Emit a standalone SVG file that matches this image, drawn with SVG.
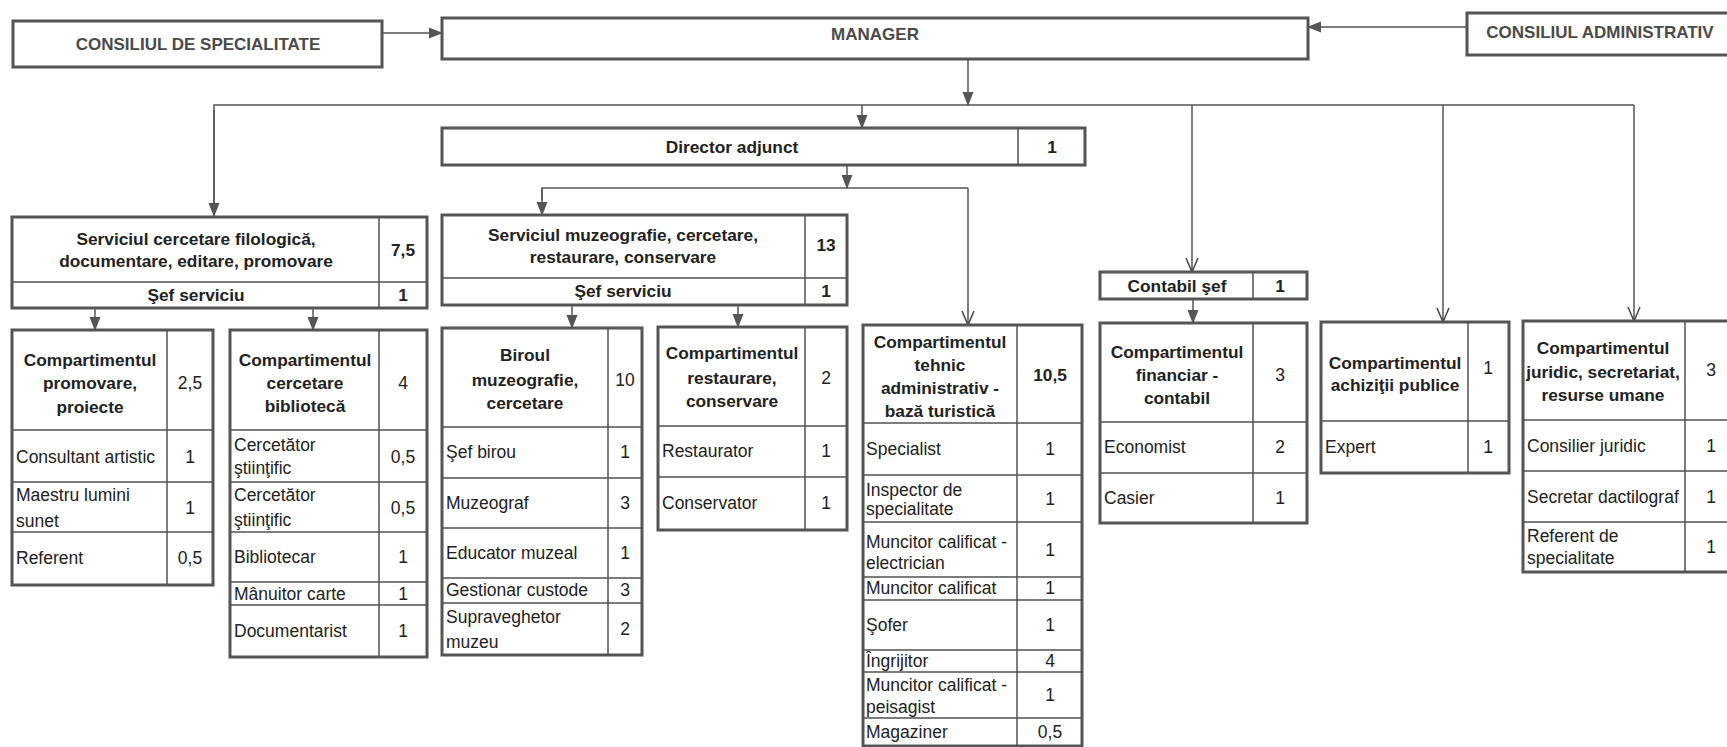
<svg xmlns="http://www.w3.org/2000/svg" width="1727" height="747" viewBox="0 0 1727 747">
<defs>
<style>
.bx{fill:#fff;stroke:#555;stroke-width:3}
.dv{stroke:#505050;stroke-width:1.5;fill:none}
.cn{stroke:#555;stroke-width:1.5;fill:none}
text{font-family:"Liberation Sans",Arial,sans-serif;font-size:17.5px;fill:#222}
.b{font-weight:bold;text-anchor:middle;font-size:17.3px}
.m{text-anchor:middle}
.g{fill:#4a4a4a;font-weight:bold;text-anchor:middle;font-size:17px}
</style>
<marker id="a" markerUnits="userSpaceOnUse" markerWidth="14" markerHeight="14" viewBox="0 0 14 14" refX="13" refY="7" orient="auto"><path d="M0,1.5 L14,7 L0,12.5 z" fill="#555"/></marker>
<marker id="v" markerUnits="userSpaceOnUse" markerWidth="16" markerHeight="16" viewBox="0 0 16 16" refX="15" refY="8" orient="auto"><path d="M1,2 L15,8 L1,14" fill="none" stroke="#444" stroke-width="1.5"/></marker>
</defs>
<rect width="1727" height="747" fill="#fff"/>

<g id="connectors">
<line class="cn" x1="382" y1="33" x2="442" y2="33" marker-end="url(#a)"/>
<line class="cn" x1="1467" y1="27" x2="1308" y2="27" marker-end="url(#a)"/>
<line class="cn" x1="968" y1="59" x2="968" y2="105" marker-end="url(#a)"/>
<polyline class="cn" points="214,215 214,105 1634,105"/>
<line class="cn" x1="214" y1="110" x2="214" y2="216" marker-end="url(#a)"/>
<line class="cn" x1="862" y1="105" x2="862" y2="128" marker-end="url(#a)"/>
<line class="cn" x1="1192" y1="105" x2="1192" y2="272" marker-end="url(#v)"/>
<line class="cn" x1="1443" y1="105" x2="1443" y2="322" marker-end="url(#v)"/>
<line class="cn" x1="1634" y1="105" x2="1634" y2="321" marker-end="url(#v)"/>
<line class="cn" x1="847" y1="165" x2="847" y2="188" marker-end="url(#a)"/>
<polyline class="cn" points="542,200 542,188 968,188"/>
<line class="cn" x1="542" y1="188" x2="542" y2="215" marker-end="url(#a)"/>
<line class="cn" x1="968" y1="188" x2="968" y2="325" marker-end="url(#v)"/>
<line class="cn" x1="95" y1="308" x2="95" y2="330" marker-end="url(#a)"/>
<line class="cn" x1="313" y1="308" x2="313" y2="330" marker-end="url(#a)"/>
<line class="cn" x1="572" y1="305" x2="572" y2="328" marker-end="url(#a)"/>
<line class="cn" x1="738" y1="305" x2="738" y2="327" marker-end="url(#a)"/>
<line class="cn" x1="1193" y1="299" x2="1193" y2="323" marker-end="url(#a)"/>
</g>

<g id="consiliul-specialitate">
<rect class="bx" x="13" y="21" width="369" height="46"/>
<text class="g" x="198" y="50">CONSILIUL DE SPECIALITATE</text>
</g>

<g id="manager">
<rect class="bx" x="442" y="18" width="866" height="41"/>
<text class="g" x="875" y="40">MANAGER</text>
</g>

<g id="consiliul-administrativ">
<rect class="bx" x="1467" y="13" width="264" height="42"/>
<text class="g" x="1600" y="38">CONSILIUL ADMINISTRATIV</text>
</g>

<g id="director-adjunct">
<rect class="bx" x="442" y="128" width="643" height="37"/>
<line class="dv" x1="1018" y1="128" x2="1018" y2="165"/>
<text class="b" x="732" y="153">Director adjunct</text>
<text class="b" x="1052" y="153">1</text>
</g>

<g id="serviciul-cercetare">
<rect class="bx" x="12" y="217" width="415" height="91"/>
<line class="dv" x1="379" y1="217" x2="379" y2="308"/>
<line class="dv" x1="12" y1="282" x2="427" y2="282"/>
<text class="b" x="196" y="245">Serviciul cercetare filologică,</text>
<text class="b" x="196" y="267">documentare, editare, promovare</text>
<text class="b" x="403" y="256">7,5</text>
<text class="b" x="196" y="301">Şef serviciu</text>
<text class="b" x="403" y="301">1</text>
</g>

<g id="comp-promovare">
<rect class="bx" x="12" y="330" width="201" height="255"/>
<line class="dv" x1="167" y1="330" x2="167" y2="585"/>
<line class="dv" x1="12" y1="430" x2="213" y2="430"/>
<line class="dv" x1="12" y1="482" x2="213" y2="482"/>
<line class="dv" x1="12" y1="532" x2="213" y2="532"/>
<text class="b" x="90" y="366">Compartimentul</text>
<text class="b" x="90" y="389">promovare,</text>
<text class="b" x="90" y="413">proiecte</text>
<text class="m" x="190" y="389">2,5</text>
<text x="16" y="463">Consultant artistic</text>
<text class="m" x="190" y="463">1</text>
<text x="16" y="501">Maestru lumini</text>
<text x="16" y="527">sunet</text>
<text class="m" x="190" y="514">1</text>
<text x="16" y="564">Referent</text>
<text class="m" x="190" y="564">0,5</text>
</g>

<g id="comp-biblioteca">
<rect class="bx" x="230" y="330" width="197" height="327"/>
<line class="dv" x1="379" y1="330" x2="379" y2="657"/>
<line class="dv" x1="230" y1="430" x2="427" y2="430"/>
<line class="dv" x1="230" y1="482" x2="427" y2="482"/>
<line class="dv" x1="230" y1="532" x2="427" y2="532"/>
<line class="dv" x1="230" y1="582" x2="427" y2="582"/>
<line class="dv" x1="230" y1="605" x2="427" y2="605"/>
<text class="b" x="305" y="366">Compartimentul</text>
<text class="b" x="305" y="389">cercetare</text>
<text class="b" x="305" y="412">bibliotecă</text>
<text class="m" x="403" y="389">4</text>
<text x="234" y="451">Cercetător</text>
<text x="234" y="474">ştiinţific</text>
<text class="m" x="403" y="463">0,5</text>
<text x="234" y="501">Cercetător</text>
<text x="234" y="526">ştiinţific</text>
<text class="m" x="403" y="514">0,5</text>
<text x="234" y="563">Bibliotecar</text>
<text class="m" x="403" y="563">1</text>
<text x="234" y="600">Mânuitor carte</text>
<text class="m" x="403" y="600">1</text>
<text x="234" y="637">Documentarist</text>
<text class="m" x="403" y="637">1</text>
</g>

<g id="serviciul-muzeografie">
<rect class="bx" x="442" y="215" width="405" height="90"/>
<line class="dv" x1="805" y1="215" x2="805" y2="305"/>
<line class="dv" x1="442" y1="278" x2="847" y2="278"/>
<text class="b" x="623" y="241">Serviciul muzeografie, cercetare,</text>
<text class="b" x="623" y="263">restaurare, conservare</text>
<text class="b" x="826" y="251">13</text>
<text class="b" x="623" y="297">Şef serviciu</text>
<text class="b" x="826" y="297">1</text>
</g>

<g id="biroul-muzeografie">
<rect class="bx" x="442" y="328" width="200" height="327"/>
<line class="dv" x1="608" y1="328" x2="608" y2="655"/>
<line class="dv" x1="442" y1="427" x2="642" y2="427"/>
<line class="dv" x1="442" y1="478" x2="642" y2="478"/>
<line class="dv" x1="442" y1="528" x2="642" y2="528"/>
<line class="dv" x1="442" y1="578" x2="642" y2="578"/>
<line class="dv" x1="442" y1="603" x2="642" y2="603"/>
<text class="b" x="525" y="361">Biroul</text>
<text class="b" x="525" y="386">muzeografie,</text>
<text class="b" x="525" y="409">cercetare</text>
<text class="m" x="625" y="386">10</text>
<text x="446" y="458">Şef birou</text>
<text class="m" x="625" y="458">1</text>
<text x="446" y="509">Muzeograf</text>
<text class="m" x="625" y="509">3</text>
<text x="446" y="559">Educator muzeal</text>
<text class="m" x="625" y="559">1</text>
<text x="446" y="596">Gestionar custode</text>
<text class="m" x="625" y="596">3</text>
<text x="446" y="623">Supraveghetor</text>
<text x="446" y="648">muzeu</text>
<text class="m" x="625" y="635">2</text>
</g>

<g id="comp-restaurare">
<rect class="bx" x="658" y="327" width="189" height="203"/>
<line class="dv" x1="805" y1="327" x2="805" y2="530"/>
<line class="dv" x1="658" y1="426" x2="847" y2="426"/>
<line class="dv" x1="658" y1="477" x2="847" y2="477"/>
<text class="b" x="732" y="359">Compartimentul</text>
<text class="b" x="732" y="384">restaurare,</text>
<text class="b" x="732" y="407">conservare</text>
<text class="m" x="826" y="384">2</text>
<text x="662" y="457">Restaurator</text>
<text class="m" x="826" y="457">1</text>
<text x="662" y="509">Conservator</text>
<text class="m" x="826" y="509">1</text>
</g>

<g id="comp-tehnic">
<rect class="bx" x="863" y="325" width="219" height="421"/>
<line class="dv" x1="1017" y1="325" x2="1017" y2="746"/>
<line class="dv" x1="863" y1="423" x2="1082" y2="423"/>
<line class="dv" x1="863" y1="475" x2="1082" y2="475"/>
<line class="dv" x1="863" y1="522" x2="1082" y2="522"/>
<line class="dv" x1="863" y1="577" x2="1082" y2="577"/>
<line class="dv" x1="863" y1="600" x2="1082" y2="600"/>
<line class="dv" x1="863" y1="650" x2="1082" y2="650"/>
<line class="dv" x1="863" y1="672" x2="1082" y2="672"/>
<line class="dv" x1="863" y1="718" x2="1082" y2="718"/>
<text class="b" x="940" y="348">Compartimentul</text>
<text class="b" x="940" y="371">tehnic</text>
<text class="b" x="940" y="394">administrativ -</text>
<text class="b" x="940" y="417">bază turistică</text>
<text class="b" x="1050" y="381">10,5</text>
<text x="866" y="455">Specialist</text>
<text class="m" x="1050" y="455">1</text>
<text x="866" y="496">Inspector de</text>
<text x="866" y="515">specialitate</text>
<text class="m" x="1050" y="505">1</text>
<text x="866" y="548">Muncitor calificat -</text>
<text x="866" y="569">electrician</text>
<text class="m" x="1050" y="556">1</text>
<text x="866" y="594">Muncitor calificat</text>
<text class="m" x="1050" y="594">1</text>
<text x="866" y="631">Şofer</text>
<text class="m" x="1050" y="631">1</text>
<text x="866" y="667">Îngrijitor</text>
<text class="m" x="1050" y="667">4</text>
<text x="866" y="691">Muncitor calificat -</text>
<text x="866" y="713">peisagist</text>
<text class="m" x="1050" y="701">1</text>
<text x="866" y="738">Magaziner</text>
<text class="m" x="1050" y="738">0,5</text>
</g>

<g id="contabil-sef">
<rect class="bx" x="1100" y="272" width="207" height="27"/>
<line class="dv" x1="1253" y1="272" x2="1253" y2="299"/>
<text class="b" x="1177" y="292">Contabil şef</text>
<text class="b" x="1280" y="292">1</text>
</g>

<g id="comp-financiar">
<rect class="bx" x="1100" y="323" width="207" height="200"/>
<line class="dv" x1="1253" y1="323" x2="1253" y2="523"/>
<line class="dv" x1="1100" y1="422" x2="1307" y2="422"/>
<line class="dv" x1="1100" y1="473" x2="1307" y2="473"/>
<text class="b" x="1177" y="358">Compartimentul</text>
<text class="b" x="1177" y="381">financiar -</text>
<text class="b" x="1177" y="404">contabil</text>
<text class="m" x="1280" y="381">3</text>
<text x="1104" y="453">Economist</text>
<text class="m" x="1280" y="453">2</text>
<text x="1104" y="504">Casier</text>
<text class="m" x="1280" y="504">1</text>
</g>

<g id="comp-achizitii">
<rect class="bx" x="1321" y="322" width="188" height="151"/>
<line class="dv" x1="1468" y1="322" x2="1468" y2="473"/>
<line class="dv" x1="1321" y1="421" x2="1509" y2="421"/>
<text class="b" x="1395" y="369">Compartimentul</text>
<text class="b" x="1395" y="391">achiziţii publice</text>
<text class="m" x="1488" y="374">1</text>
<text x="1325" y="453">Expert</text>
<text class="m" x="1488" y="453">1</text>
</g>

<g id="comp-juridic">
<rect class="bx" x="1523" y="321" width="206" height="251"/>
<line class="dv" x1="1685" y1="321" x2="1685" y2="572"/>
<line class="dv" x1="1523" y1="420" x2="1727" y2="420"/>
<line class="dv" x1="1523" y1="471" x2="1727" y2="471"/>
<line class="dv" x1="1523" y1="522" x2="1727" y2="522"/>
<text class="b" x="1603" y="354">Compartimentul</text>
<text class="b" x="1603" y="378">juridic, secretariat,</text>
<text class="b" x="1603" y="401">resurse umane</text>
<text class="m" x="1711" y="376">3</text>
<text x="1527" y="452">Consilier juridic</text>
<text class="m" x="1711" y="452">1</text>
<text x="1527" y="503">Secretar dactilograf</text>
<text class="m" x="1711" y="503">1</text>
<text x="1527" y="542">Referent de</text>
<text x="1527" y="564">specialitate</text>
<text class="m" x="1711" y="553">1</text>
</g>
</svg>
